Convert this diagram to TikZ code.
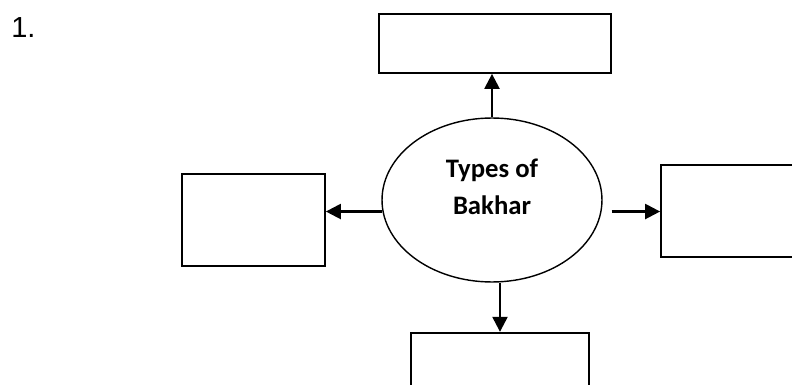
\documentclass[tikz,border=0pt]{standalone}
\usepackage{fontspec}
\setmainfont{Carlito}
\newfontfamily\numfont{Liberation Sans}
\usetikzlibrary{shapes.geometric,arrows.meta}
\tikzset{
  blank/.style={rectangle,draw=black,line width=1pt,inner sep=0pt},
  hub/.style={ellipse,draw=black,line width=0.8pt,inner sep=0pt,
              minimum width=4.4cm,minimum height=3.28cm},
  arr/.style={line width=1.3pt,-{Triangle[length=0.3cm,width=0.3cm]}}
}
\begin{document}
\begin{tikzpicture}[x=0.02cm,y=-0.02cm]
                \useasboundingbox (0,0) rectangle (792,385);
                \clip (0,0) rectangle (792,385);
                \node[anchor=base west,inner sep=0pt,font=\numfont\fontsize{16.5}{19}\selectfont] (num) at (11,38) {1.};
                \begin{scope}[every node/.style={blank}]
                \node[minimum width=4.64cm,minimum height=1.18cm] (T) at (495,43.5) {};
                \node[minimum width=2.86cm,minimum height=1.84cm] (L) at (253.5,220) {};
                \node[minimum width=2.86cm,minimum height=1.84cm] (R) at (732.5,211) {};
                \node[minimum width=3.56cm,minimum height=1.84cm] (B) at (500,378.7) {};
                \end{scope}
                \node[hub] (E) at (492,200) {};
                \node[align=center,font=\bfseries\fontsize{15.2}{21}\selectfont] (title) at (492,187) {Types of\\Bakhar};
                \draw[arr] (E.north) -- (E.north |- T.south);
                \draw[arr] (E.186) -- (E.186 -| L.east);
                \draw[arr,shorten <=0.2cm] (E.354) -- (E.354 -| R.west);
                \draw[arr] (E.south -| B.north) -- (B.north);
            \end{tikzpicture}
\end{document}
